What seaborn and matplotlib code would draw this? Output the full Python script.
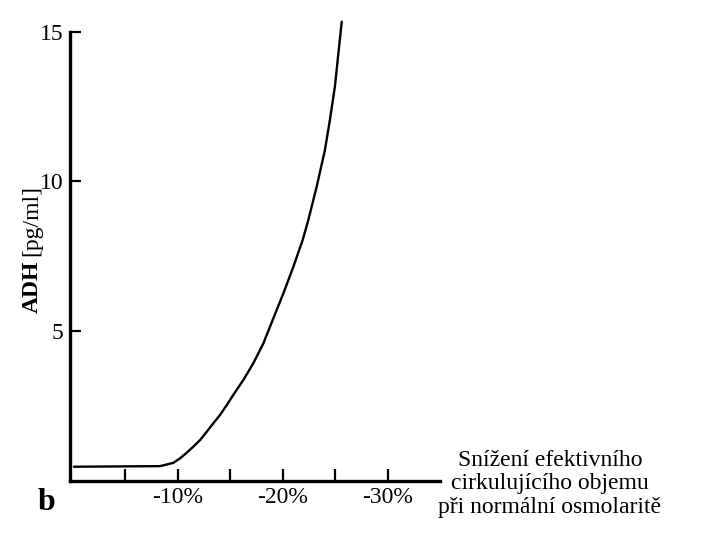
import matplotlib
matplotlib.use("Agg")
import matplotlib.pyplot as plt
import seaborn as sns
import pandas as pd

# snížení objemu [%] a ADH [pg/ml]
objem_pokles = [0.15, 8.33, 9.59, 10.23, 10.87, 11.49, 12.13, 12.77, 13.39,
                14.03, 14.67, 15.29, 16.25, 17.20, 18.15, 19.10, 20.05, 21.00,
                21.89, 22.42, 23.22, 24.0, 24.47, 24.95, 25.28, 25.60]
adh = [0.46, 0.48, 0.59, 0.74, 0.93, 1.13, 1.35, 1.63, 1.91,
       2.19, 2.52, 2.86, 3.36, 3.92, 4.58, 5.42, 6.25, 7.14,
       8.04, 8.70, 9.82, 11.04, 12.04, 13.16, 14.27, 15.33]

x_ticks = [5, 10, 15, 20, 25, 30]
x_labels = ["", "-10%", "", "-20%", "", "-30%"]
y_ticks = [5, 10, 15]
y_labels = ["5", "10", "15"]

df = pd.DataFrame({"pokles": objem_pokles, "adh": adh})

sns.set_theme(style="white")
plt.rcParams["font.family"] = ["Liberation Serif", "DejaVu Serif"]
plt.rcParams["text.color"] = "black"
plt.rcParams["axes.labelcolor"] = "black"

fig = plt.figure(figsize=(7.2, 5.4), dpi=100)
ax = fig.add_axes([70 / 720, 1 - 480.5 / 540, 370 / 720, 463.9 / 540])

sns.lineplot(data=df, x="pokles", y="adh", sort=False, estimator=None,
             color="black", linewidth=1.7, ax=ax)

ax.set_xlim(-0.23, 34.94)
ax.set_ylim(0, 15.5)
ax.set_xticks(x_ticks)
ax.set_xticklabels(x_labels)
ax.set_yticks(y_ticks)
ax.set_yticklabels(y_labels)
ax.set_xlabel("")
ax.set_ylabel("")

for s in ["top", "right"]:
    ax.spines[s].set_visible(False)
for s in ["left", "bottom"]:
    ax.spines[s].set_linewidth(2.4)
    ax.spines[s].set_color("black")
ax.spines["left"].set_bounds(0, 15)

ax.tick_params(axis="x", direction="in", length=8.5, width=1.6, colors="black",
               labelsize=17, pad=5, bottom=True)
ax.tick_params(axis="y", direction="in", length=8, width=1.6, colors="black",
               labelsize=17, pad=5, left=True)

# popisek osy y: tučné ADH + jednotky
fig.text(32 / 720, 1 - 313 / 540, "ADH", rotation=90, ha="center", va="bottom",
         fontsize=17, fontweight="bold", color="black")
fig.text(32 / 720, 1 - 256 / 540, "[pg/ml]", rotation=90, ha="center", va="bottom",
         fontsize=17, color="black")

fig.text(550 / 720, 1 - 484 / 540,
         "Snížení efektivního\ncirkulujícího objemu\npři normální osmolaritě",
         ha="center", va="center", multialignment="center", fontsize=17,
         linespacing=1.15, color="black")

fig.text(47 / 720, 1 - 503 / 540, "b", ha="center", va="center",
         fontsize=23, fontweight="bold", color="black")

fig.savefig("out.png", dpi=100)
